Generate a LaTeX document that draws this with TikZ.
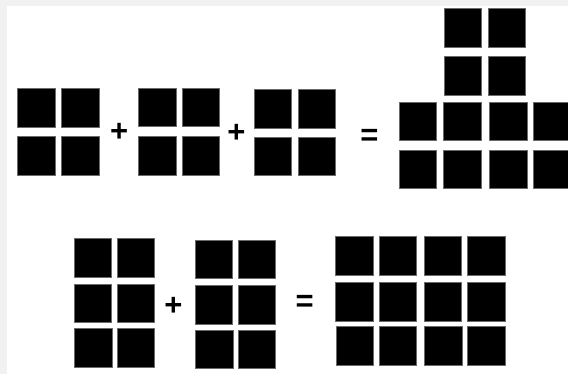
\documentclass[tikz,border=0pt]{standalone}
\usepackage{fontspec}
\setmainfont{Liberation Sans}
\definecolor{framegray}{HTML}{F1F1F1}
\definecolor{edgegray}{HTML}{6A6A6A}
\tikzset{
  sq/.style={fill=black, draw=edgegray, line width=0.6pt},
  op/.style={inner sep=0pt, font=\fontsize{31}{31}\selectfont\bfseries}
}
\newcommand{\cell}[2]{\path[sq] (#1,#2) rectangle ++(37.6,38.6);}
\begin{document}
\begin{tikzpicture}[x=1pt,y=-1pt]
\useasboundingbox (0,0) rectangle (568,374);
\clip (0,0) rectangle (568,374);
\fill[white] (0,0) rectangle (568,374);
\fill[framegray] (0,0) rectangle (568,6);
\fill[framegray] (0,0) rectangle (7,374);
% group 1
\cell{17.3}{88.3}\cell{61.2}{88.3}
\cell{17.3}{136.3}\cell{61.2}{136.3}
% group 2
\cell{138.3}{88}\cell{182}{88}
\cell{138.3}{136.3}\cell{182}{136.3}
% group 3
\cell{254}{89.3}\cell{298}{89.3}
\cell{254}{137}\cell{298}{137}
% group 4
\cell{444}{8.5}\cell{487.8}{8.5}
\cell{444}{56.6}\cell{487.8}{56.6}
\cell{399}{102.2}\cell{443.3}{102.2}\cell{489.6}{102.2}\cell{533.3}{102.2}
\cell{399}{150.2}\cell{443.3}{150.2}\cell{489.6}{150.2}\cell{533.3}{150.2}
% group A
\cell{74}{238.4}\cell{117}{238.4}
\cell{74}{284}\cell{117}{284}
\cell{74.3}{328.3}\cell{117}{328.3}
% group B
\cell{195}{240}\cell{238}{240}
\cell{195}{285.7}\cell{238}{285.7}
\cell{195.2}{330}\cell{238}{330}
% group C
\cell{335.7}{236.7}\cell{379}{236.7}\cell{424}{236.7}\cell{467.3}{236.7}
\cell{335.7}{282.3}\cell{379}{282.3}\cell{424}{282.3}\cell{467.3}{282.3}
\cell{336}{326.3}\cell{379}{326.3}\cell{424.3}{326.3}\cell{467.3}{326.3}
% operators
\node[op] (p1) at (119.3,132) {+};
\node[op] (p2) at (236.5,133.3) {+};
\node[op] (e1) at (369.5,137.2) {=};
\node[op] (p3) at (173.3,306.7) {+};
\node[op] (e2) at (304.7,303.5) {=};
\end{tikzpicture}
\end{document}
